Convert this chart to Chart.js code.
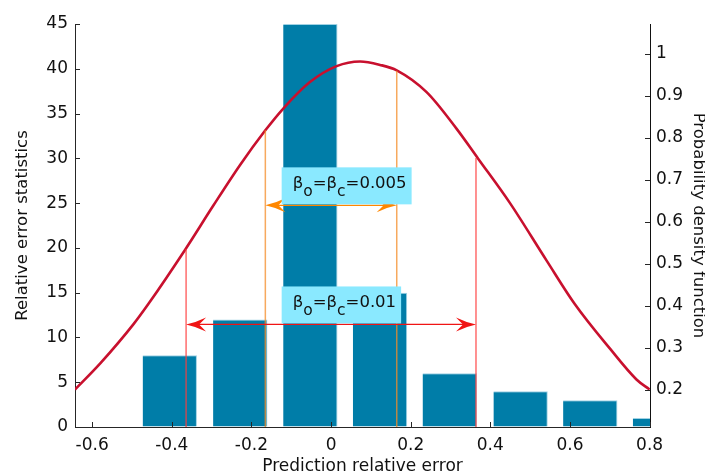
<!DOCTYPE html>
<html>
<head>
<meta charset="utf-8">
<script src="https://cdn.jsdelivr.net/npm/chart.js@4"></script>
<style>
  html, body { margin: 0; padding: 0; background: #fff; }
  #wrap { width: 705px; height: 475px; }
</style>
</head>
<body>
<div id="wrap"><canvas id="chart"></canvas></div>
<script>
// histogram of relative errors (bin centres and counts)
var binCenters = [-0.405, -0.228, -0.052, 0.123, 0.298, 0.476, 0.651, 0.826];
var binCounts = [8, 12, 45, 15, 6, 4, 3, 1];

// probability density curve
var pdfX = [-0.643, -0.579, -0.496, -0.458, -0.366, -0.296, -0.228, -0.165, -0.120, -0.053, 0.014, 0.073, 0.123, 0.165, 0.240, 0.315, 0.369, 0.449, 0.541, 0.612, 0.700, 0.767, 0.800];
var pdfY = [0.200, 0.263, 0.356, 0.405, 0.534, 0.638, 0.736, 0.818, 0.870, 0.933, 0.971, 0.982, 0.974, 0.961, 0.909, 0.822, 0.751, 0.645, 0.508, 0.404, 0.298, 0.224, 0.200];

// error bands: [low, high] and the pdf value where the marker meets the curve
var bandLabels = ["0.005", "0.01"];
var bandLow = [-0.165, -0.364];
var bandHigh = [0.165, 0.364];
var bandLowPdf = [0.818, 0.535];
var bandHighPdf = [0.960, 0.752];
var bandArrowLevel = [24.75, 11.45];

var xTicks = [-0.6, -0.4, -0.2, 0, 0.2, 0.4, 0.6, 0.8];
var yTicks = [0, 5, 10, 15, 20, 25, 30, 35, 40, 45];
var y2Ticks = [0.2, 0.3, 0.4, 0.5, 0.6, 0.7, 0.8, 0.9, 1.0];

var FONT = "'DejaVu Sans', sans-serif";
var bandStyles = [
    {vline: "rgba(244,140,40,0.75)", arrow: "rgb(255,135,0)"},
    {vline: "rgba(255,60,60,0.75)", arrow: "rgb(240,20,20)"}
];

function fmt(v) { return String(Number(v.toFixed(2))); }

function arrowHead(ctx, x, y, dir, color) {
    // concave arrow head, tip at (x, y), pointing in dir (+1 right, -1 left)
    var L = 20, H = 7, N = 13;
    ctx.fillStyle = color;
    ctx.beginPath();
    ctx.moveTo(x, y);
    ctx.quadraticCurveTo(x - dir * L * 0.5, y - H * 0.3, x - dir * L, y - H);
    ctx.lineTo(x - dir * N, y);
    ctx.lineTo(x - dir * L, y + H);
    ctx.quadraticCurveTo(x - dir * L * 0.5, y + H * 0.3, x, y);
    ctx.closePath();
    ctx.fill();
}

function drawLabel(ctx, left, bottom, value) {
    var parts = [["\u03B2", 0], ["o", 1], ["=\u03B2", 0], ["c", 1], ["=" + value, 0]];
    var big = "16.5px " + FONT, small = "15.5px " + FONT;
    var w = 0;
    parts.forEach(function (p) { ctx.font = p[1] ? small : big; w += ctx.measureText(p[0]).width; });
    var boxW = w + 16, boxH = 37;
    ctx.fillStyle = "rgb(138,233,255)";
    ctx.fillRect(left, bottom - boxH, boxW, boxH);
    var x = left + 11, base = bottom - boxH + 21;
    ctx.fillStyle = "#111";
    ctx.textBaseline = "alphabetic";
    ctx.textAlign = "left";
    parts.forEach(function (p) {
        ctx.font = p[1] ? small : big;
        ctx.fillText(p[0], x, base + (p[1] ? 8 : 0));
        x += ctx.measureText(p[0]).width;
    });
}

var overlay = {
    id: "overlay",
    afterDatasetsDraw: function (chart) {
        var ctx = chart.ctx, xs = chart.scales.x, ys = chart.scales.y, y2 = chart.scales.y2;
        var area = chart.chartArea;
        ctx.save();
        ctx.beginPath();
        ctx.rect(area.left, area.top, area.right - area.left, area.bottom - area.top);
        ctx.clip();
        for (var i = 0; i < bandLow.length; i++) {
            var st = bandStyles[i];
            var xl = xs.getPixelForValue(bandLow[i]), xh = xs.getPixelForValue(bandHigh[i]);
            ctx.strokeStyle = st.vline;
            ctx.lineWidth = 1.5;
            ctx.beginPath();
            ctx.moveTo(xl, area.bottom); ctx.lineTo(xl, y2.getPixelForValue(bandLowPdf[i]));
            ctx.moveTo(xh, area.bottom); ctx.lineTo(xh, y2.getPixelForValue(bandHighPdf[i]));
            ctx.stroke();
            var ya = ys.getPixelForValue(bandArrowLevel[i]);
            ctx.strokeStyle = st.arrow;
            ctx.lineWidth = 1.3;
            ctx.beginPath();
            ctx.moveTo(xl + 8, ya); ctx.lineTo(xh - 8, ya);
            ctx.stroke();
            arrowHead(ctx, xl, ya, -1, st.arrow);
            arrowHead(ctx, xh, ya, 1, st.arrow);
        }
        for (var j = 0; j < bandLabels.length; j++) {
            drawLabel(ctx, xs.getPixelForValue(-0.124), ys.getPixelForValue(bandArrowLevel[j]) - 1, bandLabels[j]);
        }
        ctx.restore();
    },
    afterDraw: function (chart) {
        // inward tick marks
        var ctx = chart.ctx, xs = chart.scales.x, ys = chart.scales.y, y2 = chart.scales.y2;
        var a = chart.chartArea, t = 5;
        ctx.save();
        ctx.strokeStyle = "#262626";
        ctx.lineWidth = 1;
        ctx.beginPath();
        xTicks.forEach(function (v) { var p = Math.round(xs.getPixelForValue(v)) + 0.5; ctx.moveTo(p, a.bottom); ctx.lineTo(p, a.bottom - t); });
        yTicks.forEach(function (v) { var p = Math.round(ys.getPixelForValue(v)) + 0.5; ctx.moveTo(a.left, p); ctx.lineTo(a.left + t, p); });
        y2Ticks.forEach(function (v) { var p = Math.round(y2.getPixelForValue(v)) + 0.5; ctx.moveTo(a.right, p); ctx.lineTo(a.right - t, p); });
        ctx.stroke();
        ctx.restore();
    }
};

function fixed(list) {
    return function (scale) { scale.ticks = list.map(function (v) { return {value: v}; }); };
}

new Chart(document.getElementById("chart"), {
    data: {
        datasets: [
            {
                type: "line",
                label: "pdf",
                yAxisID: "y2",
                data: pdfX.map(function (x, i) { return {x: x, y: pdfY[i]}; }),
                borderColor: "rgb(200,16,46)",
                borderWidth: 2.6,
                pointRadius: 0,
                cubicInterpolationMode: "monotone",
                order: 0
            },
            {
                type: "bar",
                label: "count",
                yAxisID: "y",
                data: binCenters.map(function (x, i) { return {x: x, y: binCounts[i]}; }),
                backgroundColor: "rgb(0,125,168)",
                borderColor: "rgba(160,210,228,1)",
                borderWidth: {top: 1, right: 1, left: 0, bottom: 0},
                borderSkipped: "bottom",
                barPercentage: 0.78,
                categoryPercentage: 1,
                order: 1
            }
        ]
    },
    options: {
        responsive: true,
        maintainAspectRatio: false,
        animation: false,
        events: [],
        layout: {padding: {top: 24, left: 0, right: 0, bottom: 0}},
        plugins: {legend: {display: false}, tooltip: {enabled: false}},
        scales: {
            x: {
                type: "linear",
                offset: false,
                min: -0.643,
                max: 0.801,
                afterBuildTicks: fixed(xTicks),
                afterFit: function (s) { s.height = 48; },
                grid: {drawOnChartArea: false, drawTicks: false, offset: false},
                border: {display: true, color: "#262626", width: 1},
                ticks: {padding: 8, color: "#111", font: {family: FONT, size: 17}, callback: fmt, maxRotation: 0},
                title: {display: true, text: "Prediction relative error", color: "#111", font: {family: FONT, size: 17}, padding: {top: 0, bottom: -1.5}}
            },
            y: {
                position: "left",
                min: 0,
                max: 45,
                afterBuildTicks: fixed(yTicks),
                afterFit: function (s) { s.width = 75; },
                grid: {drawOnChartArea: false, drawTicks: false},
                border: {display: true, color: "#262626", width: 1},
                ticks: {padding: 7, color: "#111", font: {family: FONT, size: 17}},
                title: {display: true, text: "Relative error statistics", color: "#111", font: {family: FONT, size: 16.5}, padding: {top: 12.5, bottom: 0}}
            },
            y2: {
                position: "right",
                min: 0.1107,
                max: 1.0715,
                afterBuildTicks: fixed(y2Ticks),
                afterFit: function (s) { s.width = 55; },
                grid: {drawOnChartArea: false, drawTicks: false},
                border: {display: true, color: "#111", width: 1},
                ticks: {padding: 6, color: "#111", font: {family: FONT, size: 17}, callback: fmt},
                title: {display: true, text: "Probability density function", color: "#111", font: {family: FONT, size: 16.5}, padding: {top: -3.5, bottom: 0}}
            }
        }
    },
    plugins: [overlay]
});
</script>
</body>
</html>
